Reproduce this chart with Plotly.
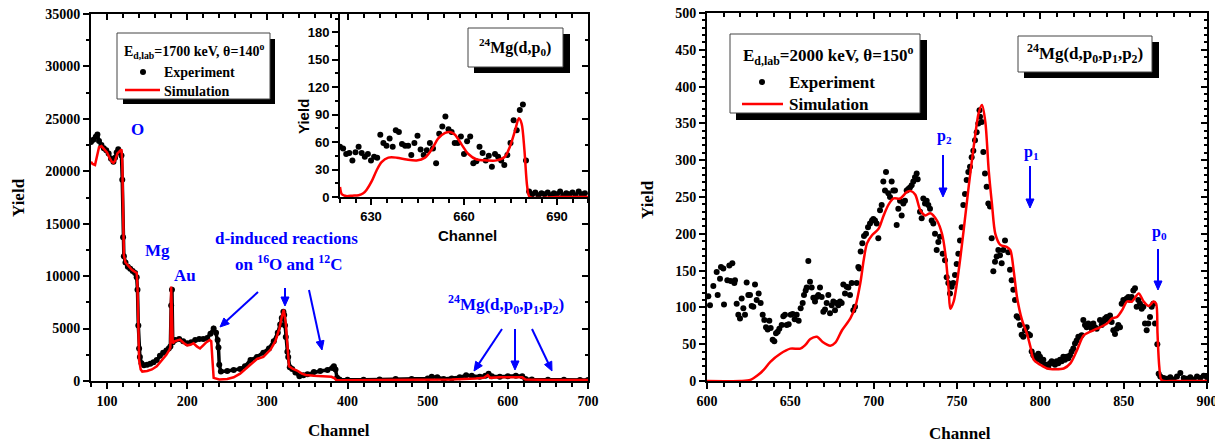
import math
import plotly.graph_objects as go

W, H = 1223, 442
OFF = 8  # page body margin offset of the rendered figure
FW, FH = W - OFF, H - OFF

# ---------------- data: left panel (Ed=1700 keV) ----------------
left_exp_ch = [80, 83, 86, 88, 90, 93, 96, 99, 102, 105,
               108, 110, 112, 114, 116, 118, 119, 120, 121, 123,
               126, 129, 132, 135, 137, 138, 139, 140, 141, 143,
               146, 150, 154, 158, 162, 166, 170, 174, 177, 179,
               180, 181, 182, 185, 190, 195, 200, 205, 210, 215,
               220, 225, 229, 233, 236, 238, 239, 240, 242, 250,
               258, 266, 272, 279, 287, 295, 302, 308, 313, 316,
               318, 320, 321, 322, 323, 325, 326, 328, 331, 335,
               340, 345, 350, 358, 366, 375, 381, 383, 385, 387,
               390, 400, 420, 440, 460, 480, 500, 505, 512, 520,
               530, 540, 548, 555, 565, 572, 576, 580, 590, 600,
               610, 618, 622, 630, 650, 670, 690, 700]
left_exp_y = [22800, 23000, 23300, 23500, 22900, 22500, 22200, 22000, 21700, 21200,
              20900, 21300, 21800, 22100, 21800, 21500, 19200, 13700, 11900, 11300,
              10900, 10700, 10500, 10300, 9900, 8700, 5300, 3100, 2300, 1700,
              1500, 1550, 1650, 1800, 2000, 2400, 2700, 2900, 3100, 3300,
              7200, 8700, 3700, 3900, 4000, 3800, 3600, 3700, 3900, 4000,
              4000, 4100, 4500, 5000, 4600, 3900, 3200, 1550, 900, 950,
              1050, 1150, 1400, 2000, 2300, 2700, 3100, 3800, 4600, 5400,
              6000, 6600, 6300, 5300, 4200, 2800, 2300, 1300, 1150, 800,
              450, 550, 650, 850, 950, 1050, 1250, 1400, 1100, 300,
              150, 120, 130, 150, 200, 180, 250, 400, 350, 200,
              250, 350, 550, 500, 400, 500, 700, 450, 400, 450,
              500, 450, 200, 150, 130, 120, 100, 100]

left_sim_ch = [80, 82, 85, 87, 90, 93, 96, 100, 103, 106,
               108, 110, 113, 116, 118, 119, 120, 121, 123, 127,
               131, 135, 137, 138, 139, 140, 142, 144, 150, 156,
               162, 168, 174, 178, 179, 180, 181, 182, 185, 191,
               196, 200, 204, 208, 212, 216, 220, 224, 228, 230,
               231.5, 233, 240, 250, 258, 266, 278, 287, 295, 304,
               310, 315, 318, 320.5, 323, 325, 327, 332, 337, 343,
               348, 358, 370, 380, 384, 386, 400, 500, 530, 560,
               570, 575, 578, 590, 610, 618, 622, 650, 700]
left_sim_y = [20900, 20700, 20600, 21300, 22300, 22400, 22100, 21800, 21300, 20900,
              20800, 21000, 21700, 22000, 22100, 21000, 15000, 12000, 11300, 10900,
              10600, 10400, 10300, 9000, 5000, 2000, 1100, 900, 950, 1100,
              1400, 1900, 2500, 3000, 3200, 9000, 6000, 3600, 3800, 3950,
              3600, 3400, 3450, 3600, 3300, 3100, 3400, 3700, 3900, 3800,
              2000, 300, 150, 200, 350, 700, 1500, 2100, 2300, 3000,
              3800, 5000, 6100, 6800, 5500, 3000, 1400, 1150, 1000, 700,
              570, 500, 450, 400, 250, 80, 80, 100, 150, 250,
              300, 550, 300, 350, 400, 350, 150, 100, 100]

# ---------------- data: inset 24Mg(d,p0) ----------------
inset_exp_ch = list(range(620, 700))
inset_exp_y = [55, 53, 47, 48, 40, 49, 55, 48, 44, 47,
               40, 44, 43, 68, 59, 56, 64, 55, 73, 71,
               58, 56, 56, 46, 59, 67, 52, 46, 51, 59,
               53, 37, 69, 77, 88, 74, 71, 59, 59, 66,
               47, 61, 66, 37, 39, 55, 48, 40, 45, 33,
               47, 44, 40, 35, 46, 59, 84, 73, 95, 101,
               40, 6, 3, 5, 2, 4, 3, 5, 2, 4,
               3, 6, 2, 4, 3, 5, 2, 6, 3, 4]
inset_sim_ch = [620, 620.6, 622, 624, 626, 627.5, 628.6, 630.2, 631.8, 633.4,
                635.6, 638.3, 641.5, 644.7, 647.4, 649.6, 651.7, 653.9, 655.5, 657.1,
                659.3, 661.4, 664.1, 667.3, 670.5, 673.2, 674.8, 676.5, 677.7, 678.6,
                679.5, 680.4, 681.2, 690, 700]
inset_sim_y = [11, 3, 1, 1.5, 2, 4, 8, 17, 29, 38,
               43, 43, 41, 40, 43, 52, 64, 70, 71, 68,
               57, 47, 41, 40, 40, 44, 55, 73, 86, 80,
               51, 11, 0, 0, 0]

# ---------------- data: right panel (Ed=2000 keV) ----------------
right_exp_points = [
    (600.8, 115), (601.8, 103), (603.8, 129), (605.8, 148), (606.4, 117), (607.8, 139), (608.4, 155), (609.8, 153), (610.2, 104), (612.2, 137),
    (613.4, 157), (614.2, 136), (615.2, 160), (616.4, 133), (616.8, 137), (617.8, 105), (618.8, 90), (619.8, 85), (620.8, 112), (621.8, 99),
    (622.8, 90), (623.8, 134), (624.8, 117), (625.8, 117), (626.8, 102), (627.8, 101), (628.8, 131), (629.8, 110), (631.0, 119), (632.2, 106),
    (633.4, 90), (634.4, 83), (635.4, 73), (636.4, 70), (637.4, 82), (638.2, 72), (639.4, 56), (640.4, 54), (641.4, 65), (642.4, 67),
    (643.4, 71), (644.8, 76), (645.8, 88), (646.8, 90), (647.8, 76), (649.0, 77), (650.2, 90), (651.4, 91), (652.6, 84), (653.8, 90),
    (655.0, 82), (656.2, 99), (657.4, 106), (658.2, 117), (659.2, 123), (659.8, 127), (660.8, 163), (661.8, 135), (662.8, 127), (663.8, 113),
    (664.8, 108), (665.8, 114), (666.8, 117), (667.8, 127), (668.8, 114), (669.8, 94), (670.8, 97), (671.8, 106), (672.8, 117), (673.8, 92),
    (674.8, 103), (675.8, 108), (676.8, 96), (677.8, 106), (678.8, 103), (679.8, 108), (680.8, 106), (681.8, 131), (682.8, 119), (683.8, 128),
    (684.8, 127), (685.8, 117), (686.8, 133), (687.8, 96), (688.8, 101), (689.8, 133), (690.8, 155), (691.4, 153), (692.2, 176), (693.2, 187),
    (694.2, 197), (695.4, 200), (696.6, 209), (697.8, 214), (699.0, 218), (699.8, 220), (700.8, 218), (701.8, 214), (702.8, 194), (703.8, 232),
    (704.8, 239), (705.8, 271), (706.8, 259), (707.4, 284), (708.8, 255), (709.8, 250), (710.8, 271), (711.8, 259), (712.8, 259), (713.8, 212),
    (714.8, 234), (715.8, 245), (716.8, 225), (717.8, 241), (718.8, 245), (719.8, 259), (720.8, 261), (721.8, 263), (722.8, 266), (723.8, 271),
    (724.8, 277), (725.8, 282), (726.4, 274), (727.8, 230), (728.8, 221), (729.8, 248), (730.8, 241), (731.8, 245), (732.8, 239), (733.8, 234),
    (734.8, 218), (735.8, 214), (736.8, 200), (737.8, 178), (738.8, 189), (739.8, 196), (741.4, 173), (742.8, 164), (743.8, 141), (744.8, 133),
    (745.8, 119), (746.8, 128), (747.8, 133), (748.8, 144), (749.8, 159), (750.8, 173), (751.8, 191), (752.8, 209), (753.8, 239), (754.8, 254),
    (755.8, 273), (756.8, 284), (757.8, 291), (758.8, 304), (759.8, 313), (760.8, 327), (761.8, 338), (762.8, 350), (763.5, 368), (763.8, 359),
    (764.8, 352), (765.8, 311), (766.8, 282), (767.8, 264), (768.8, 241), (769.8, 237), (770.8, 194), (771.8, 149), (772.8, 162), (773.8, 169),
    (774.8, 178), (775.8, 171), (776.8, 160), (777.8, 178), (778.8, 191), (780.8, 175), (781.8, 151), (782.8, 137), (783.8, 124), (784.8, 110),
    (785.8, 88), (786.8, 86), (787.8, 76), (788.8, 63), (789.8, 60), (790.8, 69), (791.8, 73), (792.8, 64), (793.8, 62), (794.8, 40),
    (795.8, 35), (796.8, 33), (797.8, 29), (798.8, 37), (799.8, 33), (800.8, 27), (801.8, 29), (802.8, 22), (803.8, 22), (804.8, 20),
    (805.8, 24), (806.8, 27), (807.8, 24), (808.8, 22), (809.8, 27), (810.8, 24), (811.8, 29), (812.8, 27), (813.8, 33), (814.8, 29),
    (815.8, 33), (816.8, 31), (817.8, 35), (818.8, 40), (819.8, 44), (820.8, 51), (821.8, 55), (822.8, 60), (823.8, 60), (824.8, 62),
    (825.8, 83), (826.8, 76), (827.8, 73), (828.8, 78), (829.8, 76), (830.8, 71), (831.8, 78), (832.8, 73), (833.8, 71), (835.8, 83),
    (836.8, 76), (837.8, 80), (838.8, 85), (839.8, 87), (840.8, 83), (841.8, 89), (842.8, 80), (843.8, 69), (844.8, 64), (845.8, 71),
    (846.8, 76), (847.8, 73), (848.8, 105), (849.8, 110), (850.8, 110), (851.8, 112), (852.8, 114), (853.8, 110), (854.8, 114), (855.8, 123),
    (856.8, 126), (857.8, 101), (858.8, 110), (859.8, 105), (860.8, 98), (861.8, 101), (862.8, 78), (863.8, 69), (864.8, 78), (865.8, 87),
    (866.8, 101), (867.8, 105), (868.8, 78), (870.2, 50), (871.0, 10), (872.0, 6), (874.0, 4), (876.0, 3), (878.0, 5), (880.0, 2),
    (882.0, 6), (884.0, 11), (886.0, 4), (888.0, 3), (890.0, 5), (892.0, 2), (894.0, 6), (896.0, 4), (898.0, 7), (900.0, 5)]
right_exp_ch = [p[0] for p in right_exp_points]
right_exp_y = [p[1] for p in right_exp_points]

right_sim_points = [
    (600, 0), (620, 0), (626, 1.4), (630, 7), (634, 15), (638, 26), (644, 37), (650, 44), (656, 44), (659, 49),
    (662, 57), (666, 60), (669.4, 53), (674, 48), (677, 52), (681, 69), (686, 85), (689, 101), (692, 133), (694, 164),
    (696, 187), (699, 198), (703, 207), (706, 225), (709, 240), (712, 248), (716, 248), (720, 257), (722.5, 258), (725, 253),
    (728, 232), (731, 225), (734, 228), (738, 218), (741, 200), (743, 173), (745, 124), (746, 98), (748, 108), (751, 150),
    (754, 205), (757, 264), (760, 318), (763, 364), (765, 375), (767, 352), (769, 287), (771, 240), (773, 200), (776, 185),
    (780, 182), (782, 178), (784, 150), (786, 114), (789, 83), (792, 64), (794, 47), (796, 29), (800, 22), (804, 17),
    (809, 16), (814, 17), (818, 24), (822, 42), (826, 62), (830, 67), (834, 71), (840, 78), (843, 85), (846, 87),
    (849, 96), (852, 108), (855, 108), (859, 119), (862, 108), (865, 102), (868, 108), (869.5, 105), (870.3, 65), (871.4, 19),
    (872.8, 1), (880, 0), (900, 0)]
right_sim_ch = [p[0] for p in right_sim_points]
right_sim_y = [p[1] for p in right_sim_points]

# ---------------- helpers ----------------
def px(x):
    return (x - OFF) / FW


def py(y):
    return 1 - (y - OFF) / FH


SERIF = "Liberation Serif"
SANS = "Liberation Sans"
BLUE = "#0000ff"
RED = "#ff0000"

fig = go.Figure()
hid = dict(showlegend=False, hoverinfo="skip")

# left main
fig.add_trace(go.Scatter(x=left_exp_ch, y=left_exp_y, mode="lines+markers",
                         line=dict(color="black", width=3.5), marker=dict(color="black", size=6),
                         xaxis="x", yaxis="y", **hid))
fig.add_trace(go.Scatter(x=left_sim_ch, y=left_sim_y, mode="lines",
                         line=dict(color=RED, width=2.5), xaxis="x", yaxis="y", **hid))
fig.add_trace(go.Scatter(x=left_exp_ch, y=left_exp_y, mode="markers", marker=dict(opacity=0),
                         xaxis="x3", yaxis="y3", **hid))
# right
fig.add_trace(go.Scatter(x=right_exp_ch, y=right_exp_y, mode="markers",
                         marker=dict(color="black", size=6), xaxis="x2", yaxis="y2", **hid))
fig.add_trace(go.Scatter(x=right_sim_ch, y=right_sim_y, mode="lines",
                         line=dict(color=RED, width=2.5, shape="spline", smoothing=0.8),
                         xaxis="x2", yaxis="y2", **hid))
fig.add_trace(go.Scatter(x=right_exp_ch, y=right_exp_y, mode="markers", marker=dict(opacity=0),
                         xaxis="x4", yaxis="y4", **hid))
# inset
fig.add_trace(go.Scatter(x=inset_exp_ch, y=inset_exp_y, mode="markers",
                         marker=dict(color="black", size=6), xaxis="x5", yaxis="y5", **hid))
fig.add_trace(go.Scatter(x=inset_sim_ch, y=inset_sim_y, mode="lines",
                         line=dict(color=RED, width=2.5, shape="spline", smoothing=0.8),
                         xaxis="x5", yaxis="y5", **hid))


def ax_main(domain, rng, dtick, tick0, mdtick, mtick0, font, anchor, fmt=None):
    d = dict(domain=domain, range=rng, dtick=dtick, tick0=tick0, anchor=anchor,
             showline=True, linewidth=2, linecolor="black", mirror=False,
             ticks="outside", ticklen=6, tickwidth=2, tickcolor="black",
             showgrid=False, zeroline=False, tickfont=font, automargin=False,
             ticklabeloverflow="allow",
             minor=dict(ticks="outside", dtick=mdtick, tick0=mtick0, ticklen=3.5,
                        tickwidth=1.5, tickcolor="black", showgrid=False))
    if fmt:
        d["tickformat"] = fmt
    return d


def ax_mirror(overlay, side, rng, dtick, tick0, mdtick, mtick0, anchor):
    return dict(overlaying=overlay, side=side, range=rng, dtick=dtick, tick0=tick0, anchor=anchor,
                showline=True, linewidth=2, linecolor="black", automargin=False,
                ticks="inside", ticklen=6, tickwidth=2, tickcolor="black",
                showticklabels=False, showgrid=False, zeroline=False,
                minor=dict(ticks="inside", dtick=mdtick, tick0=mtick0, ticklen=3.5,
                           tickwidth=1.5, tickcolor="black", showgrid=False))


serif_tick = dict(family=SERIF, size=14, color="black", weight="bold")
sans_tick = dict(family=SANS, size=13, color="black", weight="bold")

L_X = [px(91), px(588)]
L_Y = [py(381), py(14)]
R_X = [px(707), px(1207)]
R_Y = [py(381), py(13)]
I_X = [px(340), px(588)]
I_Y = [py(197), py(14)]

layout = dict(
    width=FW, height=FH, margin=dict(l=0, r=0, t=0, b=0, pad=0, autoexpand=False),
    paper_bgcolor="white", plot_bgcolor="rgba(0,0,0,0)", showlegend=False,
    xaxis=ax_main(L_X, [80, 700], 100, 100, 20, 80, serif_tick, "y"),
    yaxis=ax_main(L_Y, [0, 35000], 5000, 0, 2500, 0, serif_tick, "x", fmt="d"),
    xaxis3=ax_mirror("x", "top", [80, 700], 100, 100, 20, 80, "y3"),
    yaxis3=ax_mirror("y", "right", [0, 35000], 5000, 0, 2500, 0, "x3"),
    xaxis2=ax_main(R_X, [600, 900], 50, 600, 10, 600, serif_tick, "y2"),
    yaxis2=ax_main(R_Y, [0, 500], 50, 0, 10, 0, serif_tick, "x2", fmt="d"),
    xaxis4=ax_mirror("x2", "top", [600, 900], 50, 600, 10, 600, "y4"),
    yaxis4=ax_mirror("y2", "right", [0, 500], 50, 0, 10, 0, "x4"),
    xaxis5=ax_main(I_X, [620, 700], 30, 630, 5, 620, sans_tick, "y5"),
    yaxis5=ax_main(I_Y, [0, 200], 30, 0, 15, 0, sans_tick, "x5", fmt="d"),
)
fig.update_layout(**layout)


def txt(x, y, s, size, color="black", family=SERIF, xanchor="center", yanchor="middle", angle=0):
    return dict(x=px(x), y=py(y), xref="paper", yref="paper", text=s, showarrow=False,
                font=dict(family=family, size=size, color=color, weight="bold"),
                xanchor=xanchor, yanchor=yanchor, textangle=angle)


ann = [
    # axis titles
    txt(18, 198, "Yield", 17, angle=-90),
    txt(339, 430, "Channel", 17),
    txt(647, 200, "Yield", 17, angle=-90),
    txt(960, 433, "Channel", 17),
    txt(304, 117, "Yield", 15, family=SANS, angle=-90),
    txt(467, 236, "Channel", 15, family=SANS),
    # left legend
    txt(194, 51, "E<sub>d,lab</sub>=1700 keV, θ=140<sup>o</sup>", 14),
    txt(162, 73, "Experiment", 14, xanchor="left"),
    txt(162, 91, "Simulation", 14, xanchor="left"),
    # right legend
    txt(828, 56, "E<sub>d,lab</sub>=2000 keV, θ=150<sup>o</sup>", 17),
    txt(787, 82, "Experiment", 17, xanchor="left"),
    txt(787, 104, "Simulation", 17, xanchor="left"),
    # reaction boxes
    txt(1085, 54, "<sup>24</sup>Mg(d,p<sub>0</sub>,p<sub>1</sub>,p<sub>2</sub>)", 17),
    txt(515, 47, "<sup>24</sup>Mg(d,p<sub>0</sub>)", 16),
    # blue labels left
    txt(137, 129, "O", 17, color=BLUE),
    txt(157, 251, "Mg", 17, color=BLUE),
    txt(185, 275, "Au", 17, color=BLUE),
    txt(286, 238, "d-induced reactions", 17, color=BLUE),
    txt(288, 263, "on <sup>16</sup>O and <sup>12</sup>C", 17, color=BLUE),
    txt(506, 304, "<sup>24</sup>Mg(d,p<sub>0</sub>,p<sub>1</sub>,p<sub>2</sub>)", 17, color=BLUE),
    # blue labels right
    txt(944, 136, "p<sub>2</sub>", 16, color=BLUE),
    txt(1031, 152, "p<sub>1</sub>", 16, color=BLUE),
    txt(1159, 232, "p<sub>0</sub>", 16, color=BLUE),
]


def rect(x0, y0, x1, y1, fill, lc, lw):
    return dict(type="rect", xref="paper", yref="paper", x0=px(x0), x1=px(x1), y0=py(y1), y1=py(y0),
                fillcolor=fill, line=dict(color=lc, width=lw), layer="above")


def arrow_shapes(tx, ty, hx, hy, head=9.0, half=4.0):
    dx, dy = hx - tx, hy - ty
    n = math.hypot(dx, dy)
    ux, uy = dx / n, dy / n
    bx, by = hx - ux * head, hy - uy * head
    nx, ny = -uy, ux
    p1 = (bx + nx * half, by + ny * half)
    p2 = (bx - nx * half, by - ny * half)
    path = "M {:.5f},{:.5f} L {:.5f},{:.5f} L {:.5f},{:.5f} Z".format(
        px(hx), py(hy), px(p1[0]), py(p1[1]), px(p2[0]), py(p2[1]))
    return [
        dict(type="line", xref="paper", yref="paper", x0=px(tx), y0=py(ty), x1=px(bx + ux), y1=py(by + uy),
             line=dict(color=BLUE, width=2), layer="above"),
        dict(type="path", xref="paper", yref="paper", path=path, fillcolor=BLUE,
             line=dict(color=BLUE, width=1), layer="above"),
    ]


shapes = [
    rect(123, 39, 275, 104, "black", "black", 0),
    rect(117, 33, 270, 99, "white", "#444444", 1),
    rect(736, 40, 927, 120, "black", "black", 0),
    rect(730, 34, 920, 113, "white", "#444444", 1),
    rect(1024, 42, 1159, 78, "black", "black", 0),
    rect(1018, 36, 1152, 72, "white", "#444444", 1),
    rect(474, 34, 570, 73, "black", "black", 0),
    rect(468, 28, 563, 67, "white", "#444444", 1),
    dict(type="circle", xref="paper", yref="paper", x0=px(140), x1=px(146), y0=py(75), y1=py(69),
         fillcolor="black", line=dict(color="black", width=0), layer="above"),
    dict(type="line", xref="paper", yref="paper", x0=px(125), x1=px(160), y0=py(90), y1=py(90),
         line=dict(color=RED, width=2.5), layer="above"),
    dict(type="circle", xref="paper", yref="paper", x0=px(759), x1=px(765), y0=py(85), y1=py(79),
         fillcolor="black", line=dict(color="black", width=0), layer="above"),
    dict(type="line", xref="paper", yref="paper", x0=px(742), x1=px(783), y0=py(104), y1=py(104),
         line=dict(color=RED, width=2.5), layer="above"),
]

arrow_list = [
    (258, 292, 220, 327),
    (285, 288, 285, 306),
    (309, 290, 322, 350),
    (502, 329, 474, 371),
    (515, 329, 515, 370),
    (532, 329, 552, 371),
    (943, 155, 943, 197),
    (1030, 166, 1030, 208),
    (1158, 249, 1158, 290),
]
for a in arrow_list:
    shapes += arrow_shapes(*a)

fig.update_layout(annotations=ann, shapes=shapes)
fig.write_html("out.html")
